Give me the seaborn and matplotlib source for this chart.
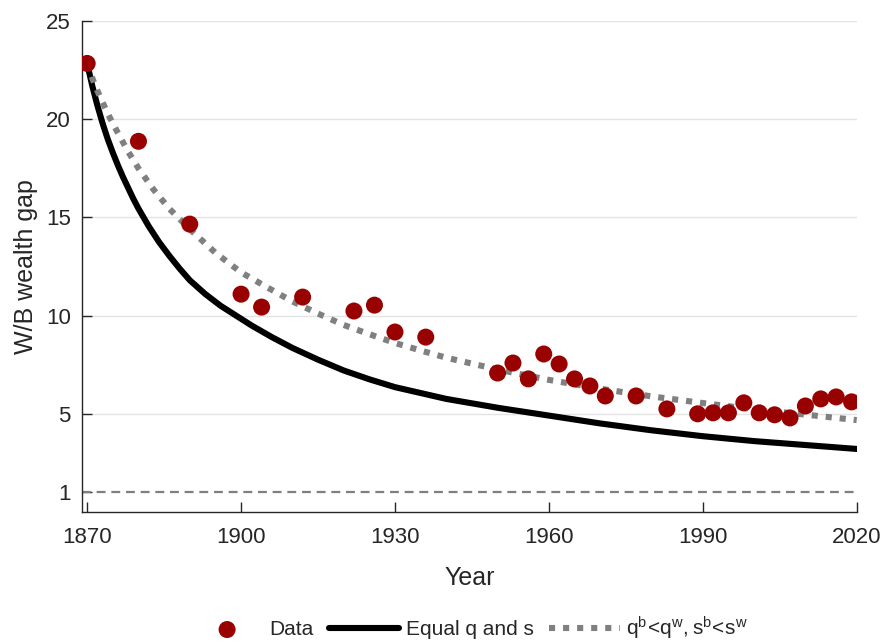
import numpy as np
import pandas as pd
import matplotlib
matplotlib.use('Agg')
import matplotlib.pyplot as plt
import seaborn as sns

# ----- Data -----
data_years = [1870, 1880, 1890, 1900, 1904, 1912, 1922, 1926, 1930, 1936,
              1950, 1953, 1956, 1959, 1962, 1965, 1968, 1971, 1977, 1983,
              1989, 1992, 1995, 1998, 2001, 2004, 2007, 2010, 2013, 2016, 2019]
data_gap = [22.85, 18.88, 14.66, 11.09, 10.43, 10.94, 10.23, 10.53, 9.16, 8.9,
            7.07, 7.58, 6.77, 8.04, 7.53, 6.77, 6.41, 5.9, 5.9, 5.24,
            4.99, 5.04, 5.04, 5.55, 5.04, 4.94, 4.78, 5.39, 5.75, 5.85, 5.6]

# model: equal q and s
eq_years = [1870, 1871, 1872, 1873, 1874, 1875, 1876, 1877, 1878, 1879, 1880,
            1882, 1884, 1886, 1888, 1890, 1893, 1896, 1899, 1902, 1906, 1910,
            1915, 1920, 1925, 1930, 1935, 1940, 1950, 1960, 1970, 1980, 1990,
            2000, 2010, 2020]
eq_gap = [22.85, 21.7, 20.7, 19.8, 19.0, 18.3, 17.65, 17.05, 16.5, 15.95, 15.45,
          14.55, 13.75, 13.05, 12.4, 11.8, 11.1, 10.5, 10.0, 9.5, 8.9, 8.35,
          7.75, 7.2, 6.75, 6.35, 6.05, 5.75, 5.3, 4.9, 4.5, 4.15, 3.85,
          3.6, 3.4, 3.2]

# model: q^b < q^w, s^b < s^w
uneq_years = [1870, 1871, 1872, 1874, 1876, 1878, 1880, 1883, 1886, 1890, 1895,
              1900, 1905, 1910, 1915, 1920, 1925, 1930, 1935, 1940, 1950, 1960,
              1970, 1980, 1990, 2000, 2010, 2020]
uneq_gap = [22.85, 22.1, 21.45, 20.3, 19.3, 18.35, 17.5, 16.4, 15.45, 14.4, 13.2,
            12.2, 11.45, 10.72, 10.1, 9.52, 9.05, 8.6, 8.22, 7.85, 7.25, 6.72,
            6.27, 5.88, 5.54, 5.22, 4.95, 4.67]

x_ticks = [1870, 1900, 1930, 1960, 1990, 2020]
y_ticks = [1, 5, 10, 15, 20, 25]

df_data = pd.DataFrame({'year': data_years, 'gap': data_gap})
df_eq = pd.DataFrame({'year': eq_years, 'gap': eq_gap})
df_uneq = pd.DataFrame({'year': uneq_years, 'gap': uneq_gap})

# ----- Style -----
sns.set_theme(style='white')
plt.rcParams['font.family'] = ['Liberation Sans', 'DejaVu Sans']
plt.rcParams['mathtext.fontset'] = 'custom'
plt.rcParams['mathtext.rm'] = 'Liberation Sans'
plt.rcParams['mathtext.it'] = 'Liberation Sans:italic'

fig, ax = plt.subplots(figsize=(8.85, 6.44), dpi=100)
fig.subplots_adjust(left=0.0927, right=0.968, bottom=0.2054, top=0.967)

# grid + reference line at 1
for yv in y_ticks[1:]:
    ax.axhline(yv, color='#e3e3e3', lw=1.0, zorder=0)
ax.axhline(1, color='#7f7f7f', lw=1.6, ls=(0, (4, 2.6)), zorder=1)

sns.lineplot(data=df_eq, x='year', y='gap', ax=ax, color='black', linewidth=4.4,
             label='Equal q and s', zorder=2)
sns.lineplot(data=df_uneq, x='year', y='gap', ax=ax, color='#808080', linewidth=4.4,
             linestyle=(0, (1, 1.3)), dash_capstyle='butt',
             label=r'$\mathregular{q^b\!<\!q^w, s^b\!<\!s^w}$', zorder=3)
sns.scatterplot(data=df_data, x='year', y='gap', ax=ax, color='#990000', s=150,
                edgecolor='none', label='Data', zorder=4)

ax.set_xlim(1869, 2020)
ax.set_ylim(0, 25)
ax.set_xticks(x_ticks)
ax.set_yticks(y_ticks)
ax.tick_params(axis='both', direction='in', length=7, width=1, color='#262626',
               labelsize=16, labelcolor='#262626', bottom=True, left=True)
ax.tick_params(axis='x', pad=11)
ax.tick_params(axis='y', pad=8)
ax.set_xlabel('Year', fontsize=18, color='#262626', labelpad=13)
ax.set_ylabel('W/B wealth gap', fontsize=18, color='#262626', labelpad=6)

sns.despine(ax=ax)
for side in ['left', 'bottom']:
    ax.spines[side].set_color('#262626')
    ax.spines[side].set_linewidth(1)

# ----- Legend under the axes -----
handles, labels = ax.get_legend_handles_labels()
order = [labels.index('Data'), labels.index('Equal q and s'),
         [i for i, l in enumerate(labels) if l.startswith('$')][0]]
ax.get_legend().remove()
fig.legend([handles[i] for i in order], [labels[i] for i in order],
           loc='center', bbox_to_anchor=(0.531, 0.025), ncol=3, frameon=False,
           fontsize=15, handlelength=3.4, handletextpad=0.3, columnspacing=0.75)

fig.savefig('out.png', dpi=100)
